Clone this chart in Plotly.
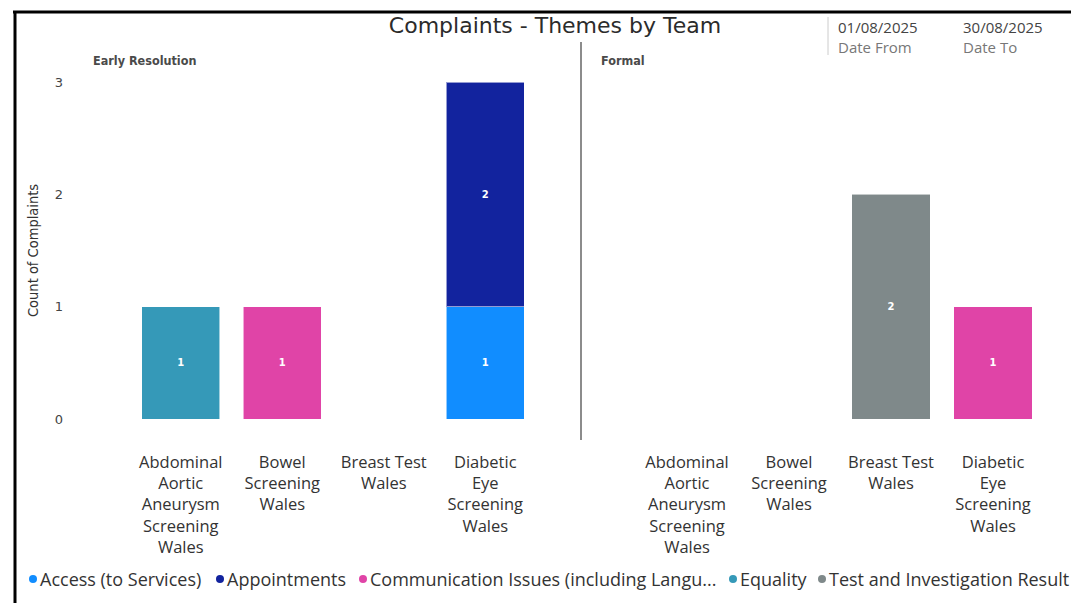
import plotly.graph_objects as go

# ---------------- data ----------------
teams = ["Abdominal Aortic Aneurysm Screening Wales", "Bowel Screening Wales",
         "Breast Test Wales", "Diabetic Eye Screening Wales"]
team_labels = ["Abdominal<br>Aortic<br>Aneurysm<br>Screening<br>Wales",
               "Bowel<br>Screening<br>Wales",
               "Breast Test<br>Wales",
               "Diabetic<br>Eye<br>Screening<br>Wales"]
panels = ["Early Resolution", "Formal"]

themes = ["Access (to Services)", "Appointments",
          "Communication Issues (including Language)", "Equality",
          "Test and Investigation Results"]
theme_legend = ["Access (to Services)", "Appointments",
                "Communication Issues (including Langu...", "Equality",
                "Test and Investigation Result"]
theme_colors = ["#118DFF", "#12239E", "#E044A7", "#3599B8", "#7F898A"]

# counts per theme per team: [Early Resolution], [Formal]
early_access = [None, None, None, 1]
early_appointments = [None, None, None, 2]
early_communication = [None, 1, None, None]
early_equality = [1, None, None, None]
early_test = [None, None, None, None]

formal_access = [None, None, None, None]
formal_appointments = [None, None, None, None]
formal_communication = [None, None, None, 1]
formal_equality = [None, None, None, None]
formal_test = [None, None, 2, None]

early = [early_access, early_appointments, early_communication, early_equality, early_test]
formal = [formal_access, formal_appointments, formal_communication, formal_equality, formal_test]

y_ticks = [0, 1, 2, 3]

title_text = "Complaints - Themes by Team"
date_from, date_to = "01/08/2025", "30/08/2025"

# ---------------- figure ----------------
W, H = 1071, 603
def px(x): return x / W
def py(y): return 1 - y / H

fig = go.Figure()
for vals_set, xa, ya in [(early, "x", "y"), (formal, "x2", "y2")]:
    for name, col, vals in zip(themes, theme_colors, vals_set):
        fig.add_trace(go.Bar(
            x=teams, y=vals, name=name, xaxis=xa, yaxis=ya,
            marker=dict(color=col, line=dict(color="rgba(255,255,255,0.55)", width=1)),
            text=[("" if v is None else "<b>%d</b>" % v) for v in vals],
            textposition="inside", insidetextanchor="middle",
            textfont=dict(color="white", size=10, family="DejaVu Sans"),
            showlegend=False, hoverinfo="skip"))

base_font = "Open Sans"
common_x = dict(type="category", categoryorder="array", categoryarray=teams,
                tickmode="array", tickvals=teams, ticktext=team_labels,
                showline=False, showgrid=False, zeroline=False, ticks="",
                tickfont=dict(family=base_font, size=16.5, color="#333333"),
                ticklabelstandoff=31, range=[-0.5, 3.5])
common_y = dict(range=[0, 3], showgrid=False, zeroline=False, showline=False,
                tickvals=y_ticks, ticks="",
                tickfont=dict(family="DejaVu Sans", size=13, color="#444444"))

fig.update_layout(
    width=W, height=H, barmode="stack", bargap=0.23,
    paper_bgcolor="white", plot_bgcolor="white",
    margin=dict(l=0, r=0, t=0, b=0, autoexpand=False),
    xaxis=dict(domain=[px(130), px(536)], anchor="y", **common_x),
    xaxis2=dict(domain=[px(636), px(1044)], anchor="y2", **common_x),
    yaxis=dict(domain=[py(419), py(82)], anchor="x", ticklabelstandoff=66, **common_y),
    yaxis2=dict(domain=[py(419), py(82)], anchor="x2", showticklabels=False, **common_y),
    title=dict(text=title_text, x=px(555), y=py(25), xanchor="center", yanchor="middle",
               font=dict(family="DejaVu Sans", size=22, color="#2b2b2b")),
)

ann = []
# panel titles
for t, x in zip(panels, [91, 599]):
    ann.append(dict(text="<b>" + t + "</b>", x=px(x), y=py(61), xref="paper", yref="paper",
                    xanchor="left", yanchor="middle", showarrow=False,
                    font=dict(family="DejaVu Sans Condensed", size=12.5, color="#4a4a4a")))
# y axis title
ann.append(dict(text="Count of Complaints", x=px(33), y=py(251), xref="paper", yref="paper",
                textangle=-90, showarrow=False, xanchor="center", yanchor="middle",
                font=dict(family="DejaVu Sans Condensed", size=14.5, color="#333333")))
# date cards (value + caption in one text block)
for val, lab, x in [(date_from, "Date From", 838), (date_to, "Date To", 963)]:
    ann.append(dict(text="<span style='color:#444444'>%s</span><br>"
                         "<span style='color:#777777'>%s</span>" % (val, lab),
                    x=px(x - 2), y=py(36.5), xref="paper", yref="paper", xanchor="left",
                    yanchor="middle", align="left", showarrow=False,
                    font=dict(family=base_font, size=15, color="#444444")))

shapes = []
# legend
legend_x = [33, 220, 363, 733, 822]
for lab, col, x in zip(theme_legend, theme_colors, legend_x):
    shapes.append(dict(type="circle", xref="paper", yref="paper",
                       x0=px(x - 4), x1=px(x + 4), y0=py(583), y1=py(575),
                       fillcolor=col, line=dict(width=0)))
    ann.append(dict(text=lab, x=px(x + 5), y=py(579), xref="paper", yref="paper",
                    xanchor="left", yanchor="middle", showarrow=False,
                    font=dict(family=base_font, size=18, color="#333333")))

# divider between panels
shapes.append(dict(type="line", xref="paper", yref="paper", x0=px(581), x1=px(581),
                   y0=py(440), y1=py(42), line=dict(color="#666666", width=1.5)))
# date card divider
shapes.append(dict(type="line", xref="paper", yref="paper", x0=px(828), x1=px(828),
                   y0=py(55), y1=py(17), line=dict(color="#cccccc", width=1)))
# frame border
shapes.append(dict(type="line", xref="paper", yref="paper", x0=px(13), x1=1,
                   y0=py(12), y1=py(12), line=dict(color="black", width=3)))
shapes.append(dict(type="line", xref="paper", yref="paper", x0=px(15), x1=px(15),
                   y0=py(12), y1=0, line=dict(color="black", width=3)))

fig.update_layout(annotations=ann, shapes=shapes)
fig.write_html("out.html")
